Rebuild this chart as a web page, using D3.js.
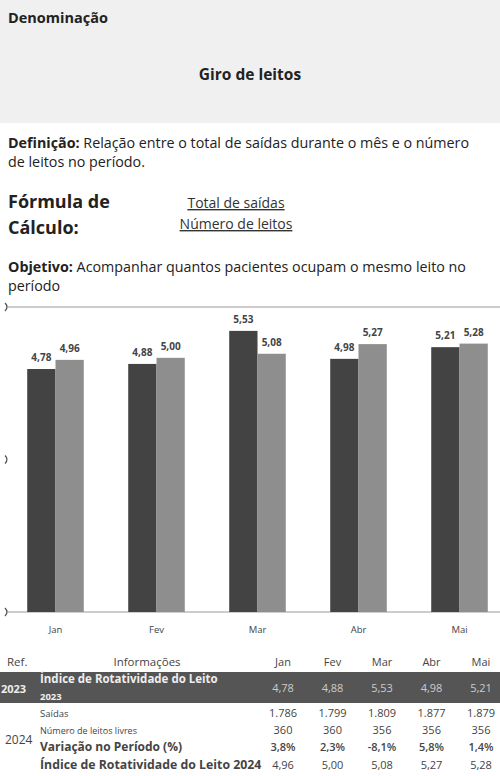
<!DOCTYPE html>
<html>
<head>
<meta charset="utf-8">
<script src="https://cdn.jsdelivr.net/npm/d3@7"></script>
<style>
  body { margin: 0; background: #fff; }
  svg { display: block; font-family: "Open Sans", "Noto Sans", sans-serif; }
</style>
</head>
<body>
<div id="chart"></div>
<script>
const months = ['Jan', 'Fev', 'Mar', 'Abr', 'Mai'];
const indice2023 = [4.78, 4.88, 5.53, 4.98, 5.21];
const indice2024 = [4.96, 5.00, 5.08, 5.27, 5.28];
const saidas = ['1.786', '1.799', '1.809', '1.877', '1.879'];
const leitosLivres = [360, 360, 356, 356, 356];
const variacao = ['3,8%', '2,3%', '-8,1%', '5,8%', '1,4%'];
const yTicks = [0, 3, 6];

const fmt = v => v.toFixed(2).replace('.', ',');

const width = 500, height = 776;
const svg = d3.select('#chart').append('svg')
  .attr('width', width)
  .attr('height', height);

// header box
svg.append('rect').attr('x', 0).attr('y', 0).attr('width', width).attr('height', 123).attr('fill', '#f0f0f0');
svg.append('text').attr('x', 8).attr('y', 23).attr('font-size', 14.5).attr('font-weight', 700).attr('fill', '#222').text('Denominação');
svg.append('text').attr('x', 250).attr('y', 80).attr('text-anchor', 'middle').attr('font-size', 15.5).attr('font-weight', 700).attr('fill', '#222').text('Giro de leitos');

// definition
let def = svg.append('text').attr('x', 8).attr('y', 148).attr('font-size', 14.3).attr('fill', '#222');
def.append('tspan').attr('font-weight', 700).text('Definição: ');
def.append('tspan').text('Relação entre o total de saídas durante o mês e o número');
svg.append('text').attr('x', 8).attr('y', 167).attr('font-size', 14.3).attr('fill', '#222').text('de leitos no período.');

// formula
svg.append('text').attr('x', 8).attr('y', 208).attr('font-size', 18).attr('font-weight', 700).attr('fill', '#222').text('Fórmula de');
svg.append('text').attr('x', 8).attr('y', 234).attr('font-size', 18).attr('font-weight', 700).attr('fill', '#222').text('Cálculo:');
svg.append('text').attr('x', 236).attr('y', 208).attr('text-anchor', 'middle').attr('font-size', 14).attr('fill', '#333')
  .attr('text-decoration', 'underline').text('Total de saídas');
svg.append('text').attr('x', 236).attr('y', 229).attr('text-anchor', 'middle').attr('font-size', 14).attr('fill', '#333')
  .attr('text-decoration', 'underline').text('Número de leitos');

// objective
let obj = svg.append('text').attr('x', 8).attr('y', 272).attr('font-size', 14.3).attr('fill', '#222');
obj.append('tspan').attr('font-weight', 700).text('Objetivo: ');
obj.append('tspan').text('Acompanhar quantos pacientes ocupam o mesmo leito no');
svg.append('text').attr('x', 8).attr('y', 291).attr('font-size', 14.3).attr('fill', '#222').text('período');

// chart
const x0 = d3.scaleBand().domain(months).range([5, 510]).paddingInner(0.44).paddingOuter(0.22);
const x1 = d3.scaleBand().domain(['2023', '2024']).range([0, x0.bandwidth()]);
const y = d3.scaleLinear().domain([0, 6]).range([612, 307]);
const colors = {'2023': '#434343', '2024': '#8e8e8e'};

// top and bottom lines
svg.selectAll('.grid').data([0, 6]).join('line')
  .attr('class', 'grid')
  .attr('x1', 8).attr('x2', width)
  .attr('y1', d => y(d)).attr('y2', d => y(d))
  .attr('stroke', '#999').attr('stroke-width', 1);

// little marks at the cut left axis
svg.selectAll('.mark').data(yTicks).join('path')
  .attr('class', 'mark')
  .attr('d', d => `M5,${y(d) - 4} Q9,${y(d)} 5,${y(d) + 4}`)
  .attr('fill', 'none').attr('stroke', '#555').attr('stroke-width', 1.3);

const rows = months.map((m, i) => ({month: m, values: [
  {key: '2023', value: indice2023[i]},
  {key: '2024', value: indice2024[i]}
]}));

const groups = svg.selectAll('.grp').data(rows).join('g')
  .attr('class', 'grp')
  .attr('transform', d => `translate(${x0(d.month)},0)`);

groups.selectAll('rect').data(d => d.values).join('rect')
  .attr('x', d => x1(d.key))
  .attr('y', d => y(d.value))
  .attr('width', x1.bandwidth())
  .attr('height', d => y(0) - y(d.value))
  .attr('fill', d => colors[d.key]);

groups.selectAll('text').data(d => d.values).join('text')
  .attr('x', d => x1(d.key) + x1.bandwidth() / 2)
  .attr('y', d => y(d.value) - 8)
  .attr('text-anchor', 'middle')
  .attr('font-size', 10)
  .attr('font-weight', 700)
  .attr('fill', '#444')
  .text(d => fmt(d.value));

const xAxis = svg.append('g')
  .attr('transform', `translate(0,${y(0)})`)
  .call(d3.axisBottom(x0).tickSize(0).tickPadding(14));
xAxis.select('.domain').remove();
xAxis.selectAll('text').attr('font-size', 9.5).attr('fill', '#444').attr('font-family', '"Open Sans", sans-serif');

// table
const colX = d3.scalePoint().domain(months).range([283, 481]);
const tbl = svg.append('g');

tbl.append('text').attr('x', 7).attr('y', 666).attr('font-size', 11.5).attr('fill', '#444').text('Ref.');
tbl.append('text').attr('x', 147).attr('y', 666).attr('text-anchor', 'middle').attr('font-size', 11.5).attr('fill', '#444').text('Informações');
tbl.selectAll('.hdr').data(months).join('text')
  .attr('class', 'hdr')
  .attr('x', d => colX(d)).attr('y', 666)
  .attr('text-anchor', 'middle').attr('font-size', 11).attr('fill', '#444')
  .text(d => d);

tbl.append('rect').attr('x', 0).attr('y', 672).attr('width', width).attr('height', 31).attr('fill', '#555');
tbl.append('text').attr('x', 1).attr('y', 693).attr('font-size', 11).attr('font-weight', 700).attr('fill', '#eee').text('2023');
tbl.append('text').attr('x', 40).attr('y', 683).attr('font-size', 11.5).attr('font-weight', 700).attr('fill', '#eee').text('Índice de Rotatividade do Leito');
tbl.append('text').attr('x', 40).attr('y', 700).attr('font-size', 9.5).attr('font-weight', 700).attr('fill', '#eee').text('2023');
tbl.selectAll('.v23').data(indice2023).join('text')
  .attr('class', 'v23')
  .attr('x', (d, i) => colX(months[i])).attr('y', 692)
  .attr('text-anchor', 'middle').attr('font-size', 11).attr('fill', '#ccc')
  .text(d => fmt(d));

tbl.append('text').attr('x', 5).attr('y', 744).attr('font-size', 12).attr('fill', '#444').text('2024');

const bodyRows = [
  {label: 'Saídas', vals: saidas, y: 717, size: 9.5, bold: false, valBold: false},
  {label: 'Número de leitos livres', vals: leitosLivres, y: 734, size: 9, bold: false, valBold: false},
  {label: 'Variação no Período (%)', vals: variacao, y: 751, size: 12, bold: true, valBold: true},
  {label: 'Índice de Rotatividade do Leito 2024', vals: indice2024.map(fmt), y: 769, size: 12.3, bold: true, valBold: false}
];

svg.append('clipPath').attr('id', 'lblclip')
  .append('rect').attr('x', 0).attr('y', 700).attr('width', 262).attr('height', 80);

bodyRows.forEach(r => {
  tbl.append('text')
    .attr('x', 40).attr('y', r.y)
    .attr('clip-path', 'url(#lblclip)')
    .attr('font-size', r.size)
    .attr('font-weight', r.bold ? 700 : 400)
    .attr('fill', '#444')
    .text(r.label);
  tbl.selectAll(null).data(r.vals).join('text')
    .attr('x', (d, i) => colX(months[i])).attr('y', r.y)
    .attr('text-anchor', 'middle')
    .attr('font-size', 11)
    .attr('font-weight', r.valBold ? 600 : 400)
    .attr('fill', '#444')
    .text(d => d);
});
</script>
</body>
</html>
